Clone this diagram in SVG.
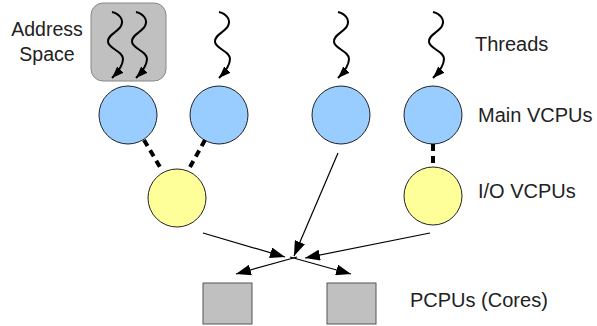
<svg xmlns="http://www.w3.org/2000/svg" width="597" height="326" viewBox="0 0 597 326">
<defs>
<marker id="ah" markerUnits="userSpaceOnUse" markerWidth="15" markerHeight="11" refX="15" refY="5.5" orient="auto"><path d="M0,0 L15,5.5 L0,11 z" fill="#000"/></marker>
<marker id="ahs" markerUnits="userSpaceOnUse" markerWidth="12" markerHeight="9" refX="12" refY="4.5" orient="auto"><path d="M0,0 L12,4.5 L0,9 z" fill="#000"/></marker>
<path id="wave" d="M0,0 C8,2 12,8 9,14 C6,20 -5,23 -4,30 C-3,37 11,39 11,47 C11,54 6,60 0,66"/>
</defs>
<style>
text{font-family:"Liberation Sans",Arial,sans-serif;font-size:20px;fill:#222}
.blue{fill:#99ccff;stroke:#222;stroke-width:1}
.yel{fill:#ffff99;stroke:#222;stroke-width:1}
.pc{fill:#c0c0c0;stroke:#555;stroke-width:1}
.th{fill:none;stroke:#000;stroke-width:2;marker-end:url(#ahs)}
.dash{stroke:#000;stroke-width:4;stroke-dasharray:7,5;fill:none}
.ln{stroke:#000;stroke-width:1.2;fill:none;marker-end:url(#ah)}
</style>
<g id="address-space">
<rect x="91" y="3" width="75" height="78" rx="12" ry="12" fill="#c0c0c0" stroke="#888" stroke-width="1"/>
<text x="47" y="36" text-anchor="middle" style="font-size:19.5px">Address</text>
<text x="47" y="61" text-anchor="middle" style="font-size:19.5px">Space</text>
</g>
<g id="threads">
<use href="#wave" x="112" y="12" class="th"/>
<use href="#wave" x="136" y="12" class="th"/>
<use href="#wave" x="219" y="12" class="th"/>
<use href="#wave" x="338" y="12" class="th"/>
<use href="#wave" x="433" y="12" class="th"/>
<text x="475" y="51">Threads</text>
</g>
<g id="main-vcpus">
<circle class="blue" cx="128" cy="115" r="29"/>
<circle class="blue" cx="219" cy="115" r="29"/>
<circle class="blue" cx="341" cy="115" r="29"/>
<circle class="blue" cx="433" cy="115" r="29"/>
<text x="478" y="122">Main VCPUs</text>
</g>
<g id="io-vcpus">
<circle class="yel" cx="177" cy="198" r="29"/>
<circle class="yel" cx="433" cy="196" r="29"/>
<text x="478" y="198">I/O VCPUs</text>
</g>
<g id="pcpus">
<rect class="pc" x="203" y="283" width="49" height="41"/>
<rect class="pc" x="327" y="283" width="49" height="41"/>
<text x="410" y="307">PCPUs (Cores)</text>
</g>
<g id="connectors">
<line class="dash" x1="144" y1="140" x2="160" y2="167"/>
<line class="dash" x1="205" y1="140" x2="190" y2="167"/>
<line class="dash" x1="433" y1="144" x2="433" y2="168"/>
<line class="ln" x1="203" y1="233" x2="285" y2="257"/>
<line class="ln" x1="338" y1="153" x2="294" y2="256"/>
<line class="ln" x1="430" y1="233" x2="305" y2="258"/>
<line class="ln" x1="297" y1="257" x2="236" y2="274"/>
<line class="ln" x1="290" y1="257" x2="351" y2="274"/>
</g>
</svg>
